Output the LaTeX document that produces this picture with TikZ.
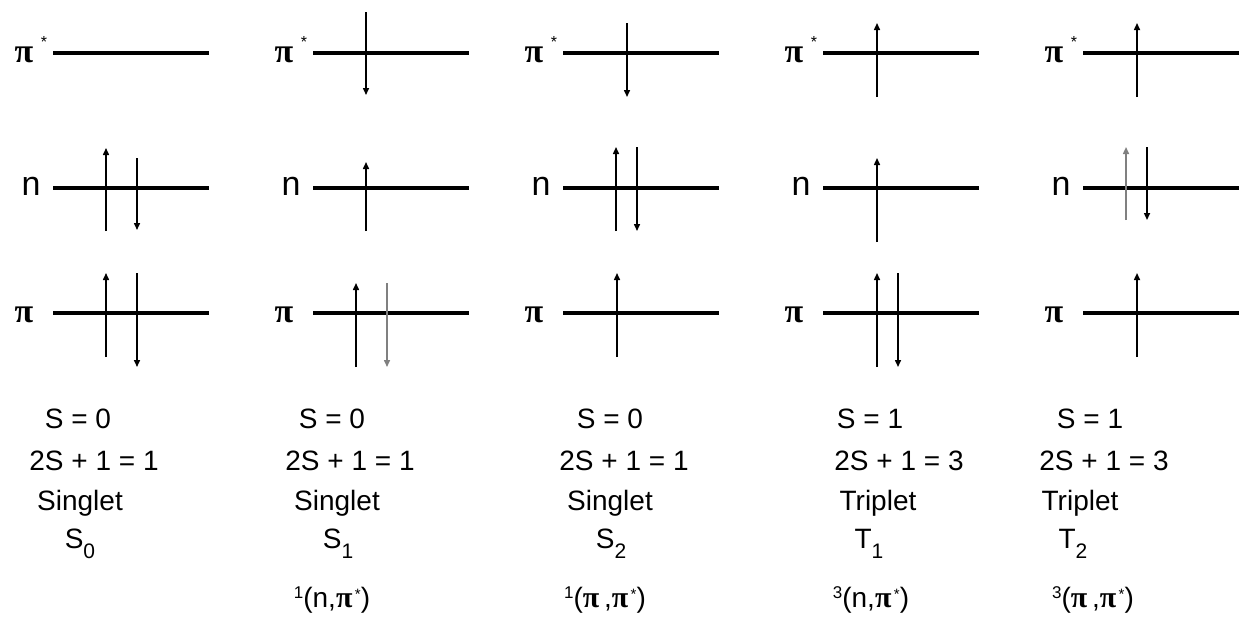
\documentclass[tikz,border=0pt]{standalone}
\usepackage{fontspec}
\setmainfont{Liberation Sans}
\newfontfamily\grk{Liberation Serif}
\usetikzlibrary{arrows.meta}
\newcommand\gpi{{\grk\bfseries π}}
\newcommand\bpi{{\fontsize{30}{30}\selectfont\gpi}}
\newcommand\sst[1]{\raisebox{-10pt}{\fontsize{21}{22}\selectfont #1}}
\newcommand\spr[1]{\raisebox{9pt}{\fontsize{17}{18}\selectfont #1}}
\newcommand\pst{\bpi\raisebox{8pt}{\fontsize{15}{15}\selectfont\,*}}
\tikzset{
  level/.style={line width=3.8pt},
  spin/.style={line width=1.5pt, -{Triangle[length=7pt,width=6pt]}},
  txt/.style={font=\fontsize{28}{30}\selectfont, anchor=base, inner sep=0pt},
  pil/.style={font=\fontsize{34}{34}\selectfont, inner sep=0pt},
  nl/.style={font=\fontsize{34}{34}\selectfont, inner sep=0pt},
  star/.style={font=\fontsize{16}{16}\selectfont, inner sep=0pt},
}
\begin{document}
\begin{tikzpicture}[x=1pt,y=-1pt]
\useasboundingbox (0,0) rectangle (1241,622);
% energy levels
\foreach \xo [count=\c] in {53,313,563,823,1083}{
  \coordinate (ps\c l) at (\xo,53);  \coordinate (ps\c r) at (\xo+156,53);
  \coordinate (n\c l)  at (\xo,188); \coordinate (n\c r)  at (\xo+156,188);
  \coordinate (p\c l)  at (\xo,313); \coordinate (p\c r)  at (\xo+156,313);
  \draw[level] (ps\c l) -- (ps\c r);
  \draw[level] (n\c l) -- (n\c r);
  \draw[level] (p\c l) -- (p\c r);
  \node[pil] (lps\c) at (\xo-29,55) {\gpi};
  \node[star] (st\c) at (\xo-9,42) {*};
  \node[nl] (ln\c) at (\xo-22,186) {n};
  \node[pil] (lp\c) at (\xo-29,315) {\gpi};
}
% electron spins
\foreach \x/\ys/\ye/\cl [count=\i] in {
  106/231/148/black, 137/158/230/black, 106/357/273/black, 137/273/367/black,
  366/12/95/black, 366/231/162/black, 356/367/283/black, 387/283/367/gray,
  627/23/97/black, 616/231/147/black, 637/147/231/black, 617/357/273/black,
  877/97/23/black, 877/242/158/black, 877/367/273/black, 898/273/367/black,
  1137/97/23/black, 1126/220/147/gray, 1147/147/220/black, 1137/357/273/black}{
  \coordinate (s\i) at (\x,\ys);
  \coordinate (e\i) at (\x,\ye);
  \draw[spin,draw=\cl] (s\i) -- (e\i);
}
% state descriptions
\node[txt] (a1) at (78,428) {S = 0};
\node[txt] (b1) at (94,470) {2S + 1 = 1};
\node[txt] (c1) at (80,510) {Singlet};
\node[txt] (d1) at (80,548) {S\sst{0}};

\node[txt] (a2) at (332,428) {S = 0};
\node[txt] (b2) at (350,470) {2S + 1 = 1};
\node[txt] (c2) at (337,510) {Singlet};
\node[txt] (d2) at (338,548) {S\sst{1}};
\node[txt] (e2) at (332,607) {\spr{1}(n,\pst)};

\node[txt] (a3) at (610,428) {S = 0};
\node[txt] (b3) at (624,470) {2S + 1 = 1};
\node[txt] (c3) at (610,510) {Singlet};
\node[txt] (d3) at (611,548) {S\sst{2}};
\node[txt] (e3) at (605,607) {\spr{1}(\bpi\,,\pst)};

\node[txt] (a4) at (870,428) {S = 1};
\node[txt] (b4) at (899,470) {2S + 1 = 3};
\node[txt] (c4) at (878,510) {Triplet};
\node[txt] (d4) at (869,548) {T\sst{1}};
\node[txt] (e4) at (871,607) {\spr{3}(n,\pst)};

\node[txt] (a5) at (1090,428) {S = 1};
\node[txt] (b5) at (1104,470) {2S + 1 = 3};
\node[txt] (c5) at (1080,510) {Triplet};
\node[txt] (d5) at (1073,548) {T\sst{2}};
\node[txt] (e5) at (1093,607) {\spr{3}(\bpi\,,\pst)};
\end{tikzpicture}
\end{document}
